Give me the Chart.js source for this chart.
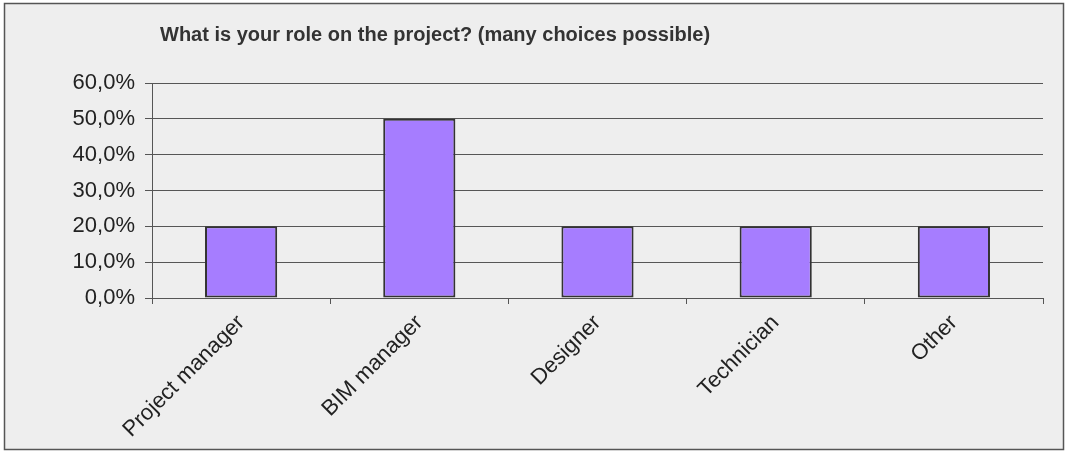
<!DOCTYPE html>
<html><head><meta charset="utf-8">
<script src="https://cdn.jsdelivr.net/npm/chart.js@4/dist/chart.umd.min.js"></script>
<style>html,body{margin:0;padding:0;background:#fff}#wrap{width:1068px;height:452px;position:relative}</style>
</head><body><div id="wrap"><canvas id="c" width="1068" height="452"></canvas></div>
<script>
const titleText = "What is your role on the project? (many choices possible)";
const categories = ["Project manager", "BIM manager", "Designer", "Technician", "Other"];
const values = [20, 50, 20, 20, 20];
const yTicks = [0, 10, 20, 30, 40, 50, 60];

const frame = {
  id: 'frame',
  beforeDraw(chart) {
    const ctx = chart.ctx;
    ctx.save();
    ctx.fillStyle = '#eeeeee';
    ctx.fillRect(4, 3, 1060, 447);
    ctx.strokeStyle = '#555';
    ctx.lineWidth = 1.5;
    ctx.strokeRect(4.5, 3.5, 1059, 446);
    ctx.restore();
  },
  afterDraw(chart) {
    const ctx = chart.ctx;
    ctx.save();
    ctx.fillStyle = '#333';
    ctx.font = 'bold 20px "Liberation Sans", Arial, sans-serif';
    ctx.textBaseline = 'middle';
    ctx.textAlign = 'left';
    ctx.fillText(titleText, 160, 35);
    ctx.restore();
  }
};

new Chart(document.getElementById('c'), {
  type: 'bar',
  data: {
    labels: categories,
    datasets: [{
      data: values,
      backgroundColor: '#a67dff',
      borderColor: '#333333',
      borderWidth: 2,
      borderSkipped: false,
      barPercentage: 0.81,
      categoryPercentage: 0.5
    }]
  },
  options: {
    responsive: false,
    animation: false,
    layout: { padding: { left: 0, top: 83, right: 25, bottom: 0 } },
    plugins: { legend: { display: false }, title: { display: false }, tooltip: { enabled: false } },
    scales: {
      y: {
        min: 0, max: 60,
        afterFit(s) { s.width = 152; },
        afterBuildTicks(s) { s.ticks = yTicks.map(v => ({ value: v })); },
        ticks: {
          color: '#222',
          font: { family: '"Liberation Sans", Arial, sans-serif', size: 22 },
          padding: 10,
          callback: v => v.toFixed(1).replace('.', ',') + '%'
        },
        grid: { color: '#555', lineWidth: 1, tickLength: 7, drawTicks: true },
        border: { color: '#555', width: 1 }
      },
      x: {
        afterFit(s) { s.height = 154; },
        ticks: {
          color: '#222',
          font: { family: '"Liberation Sans", Arial, sans-serif', size: 22 },
          minRotation: 45, maxRotation: 45,
          padding: 6
        },
        grid: { offset: true, drawOnChartArea: false, color: '#555', tickLength: 6 },
        border: { color: '#555', width: 1 }
      }
    }
  },
  plugins: [frame]
});
</script></body></html>
